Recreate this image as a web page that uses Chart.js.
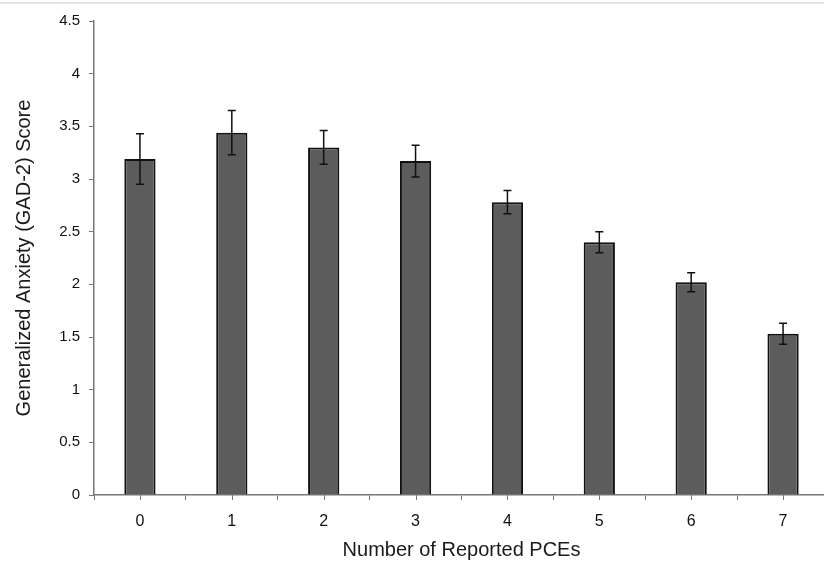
<!DOCTYPE html>
<html>
<head>
<meta charset="utf-8">
<script src="https://cdn.jsdelivr.net/npm/chart.js@4/dist/chart.umd.min.js"></script>
<style>
  html, body { margin: 0; padding: 0; background: #fff; overflow: hidden; }
  #contenedor { width: 829px; height: 563px; }
</style>
</head>
<body>
<div id="contenedor"><canvas id="grafico"></canvas></div>
<script>
// Datos
const categorias = ["0", "1", "2", "3", "4", "5", "6", "7"];
const puntajes = [3.19, 3.44, 3.30, 3.17, 2.78, 2.40, 2.02, 1.53];
const errores = [0.24, 0.21, 0.16, 0.15, 0.11, 0.10, 0.09, 0.10];
const ticksY = [0, 0.5, 1, 1.5, 2, 2.5, 3, 3.5, 4, 4.5];

const fuente = "'Liberation Sans', Arial, sans-serif";

// Plugin para las barras de error y las marcas del eje x
const barrasError = {
  id: "barrasError",
  beforeDraw(chart) {
    const ctx = chart.ctx;
    ctx.save();
    ctx.fillStyle = "#e2e2e2";
    ctx.fillRect(0, 2, chart.width, 2);
    ctx.restore();
  },
  afterDatasetsDraw(chart) {
    const ctx = chart.ctx;
    const x = chart.scales.x;
    const y = chart.scales.y;
    ctx.save();
    ctx.strokeStyle = "#111";
    ctx.lineWidth = 1.5;
    puntajes.forEach((valor, i) => {
      const px = x.getPixelForValue(i);
      const arriba = y.getPixelForValue(valor + errores[i]);
      const abajo = y.getPixelForValue(valor - errores[i]);
      ctx.beginPath();
      ctx.moveTo(px, arriba);
      ctx.lineTo(px, abajo);
      ctx.moveTo(px - 4, arriba);
      ctx.lineTo(px + 4, arriba);
      ctx.moveTo(px - 4, abajo);
      ctx.lineTo(px + 4, abajo);
      ctx.stroke();
    });
    // Marcas pequeñas bajo cada barra
    ctx.strokeStyle = "#777";
    ctx.lineWidth = 1;
    categorias.forEach((c, i) => {
      const px = Math.round(x.getPixelForValue(i)) + 0.5;
      ctx.beginPath();
      ctx.moveTo(px, y.bottom);
      ctx.lineTo(px, y.bottom + 5);
      ctx.stroke();
    });
    ctx.restore();
  }
};

const ctx = document.getElementById("grafico").getContext("2d");
const chart = new Chart(ctx, {
  type: "bar",
  data: {
    labels: categorias,
    datasets: [{
      label: "GAD-2",
      data: puntajes,
      backgroundColor: "#5c5c5c",
      borderColor: "#111",
      borderWidth: 2,
      borderSkipped: "bottom",
      barPercentage: 0.34,
      categoryPercentage: 1
    }]
  },
  options: {
    responsive: true,
    maintainAspectRatio: false,
    animation: false,
    layout: {
      padding: { top: 21, right: 0, bottom: 0, left: 0 }
    },
    plugins: {
      legend: { display: false },
      tooltip: { enabled: false }
    },
    scales: {
      x: {
        offset: true,
        afterFit(scale) { scale.height = 68; },
        grid: {
          offset: true,
          drawOnChartArea: false,
          tickLength: 5,
          color: "#777"
        },
        border: { color: "#777", width: 1.5 },
        ticks: {
          color: "#111",
          padding: 12,
          font: { family: fuente, size: 16 }
        },
        title: {
          display: true,
          text: "Number of Reported PCEs",
          color: "#1a1a1a",
          padding: { top: 2, bottom: 1 },
          font: { family: fuente, size: 20 }
        }
      },
      y: {
        min: 0,
        max: 4.5,
        afterFit(scale) { scale.width = 94; },
        afterBuildTicks(scale) {
          scale.ticks = ticksY.map(v => ({ value: v }));
        },
        grid: {
          drawOnChartArea: false,
          tickLength: 5,
          color: "#777"
        },
        border: { color: "#777", width: 1.5 },
        ticks: {
          color: "#111",
          padding: 9,
          font: { family: fuente, size: 15 },
          callback: v => String(v)
        },
        title: {
          display: true,
          text: "Generalized Anxiety (GAD-2) Score",
          color: "#1a1a1a",
          padding: { top: 12, bottom: 0 },
          font: { family: fuente, size: 20 }
        }
      }
    }
  },
  plugins: [barrasError]
});
</script>
</body>
</html>
